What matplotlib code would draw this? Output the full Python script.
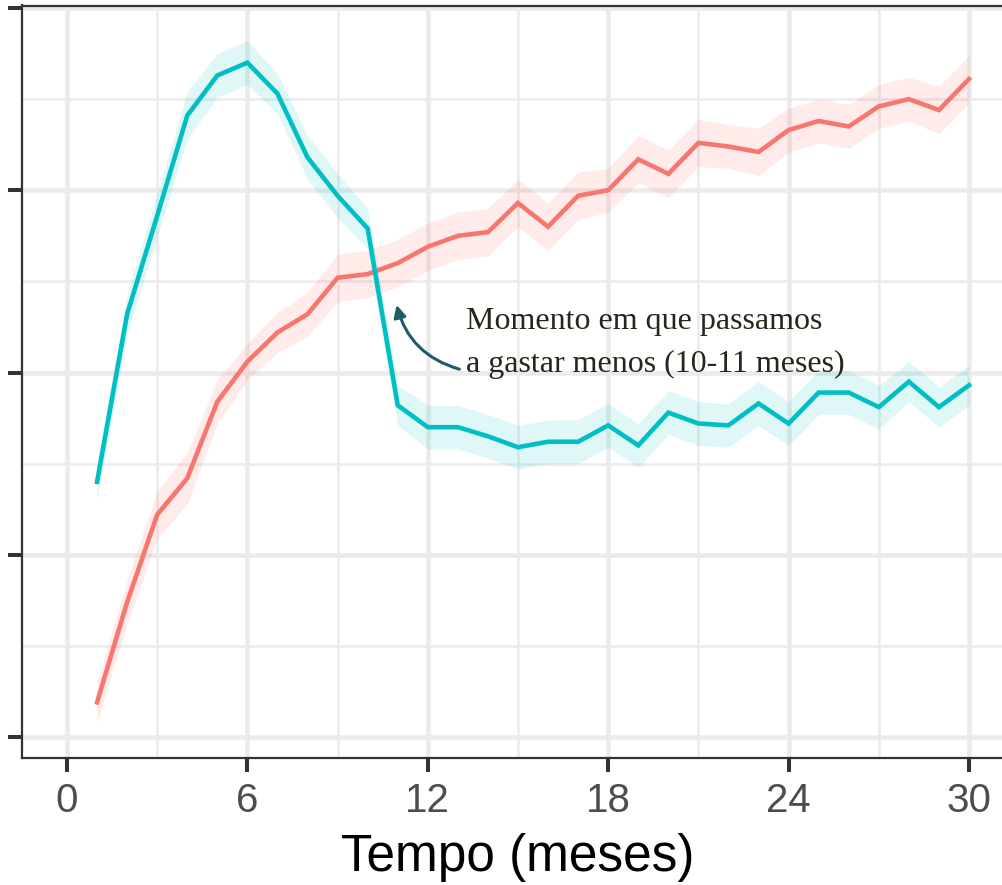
import matplotlib
matplotlib.use("Agg")
import matplotlib.pyplot as plt
from matplotlib.patches import FancyArrowPatch

# ---- data ----
months = list(range(1, 31))
serie_vermelha = [0.19, 0.74, 1.22, 1.42, 1.84, 2.06, 2.22, 2.32, 2.52, 2.54,
                  2.60, 2.69, 2.75, 2.77, 2.93, 2.80, 2.97, 3.00, 3.17, 3.09,
                  3.26, 3.24, 3.21, 3.33, 3.38, 3.35, 3.46, 3.50, 3.44, 3.61]
se_vermelha = [0.11, 0.12, 0.13, 0.14, 0.12, 0.10, 0.11, 0.12, 0.13, 0.13,
               0.13, 0.13, 0.13, 0.13, 0.13, 0.13, 0.13, 0.12, 0.13, 0.13,
               0.13, 0.12, 0.13, 0.12, 0.12, 0.12, 0.12, 0.12, 0.13, 0.13]
serie_azul = [1.40, 2.32, 2.86, 3.41, 3.63, 3.70, 3.53, 3.18, 2.97, 2.79,
              1.82, 1.70, 1.70, 1.65, 1.59, 1.62, 1.62, 1.71, 1.60, 1.78,
              1.72, 1.71, 1.83, 1.72, 1.89, 1.89, 1.81, 1.95, 1.81, 1.93]
se_azul = [0.10, 0.11, 0.12, 0.13, 0.12, 0.12, 0.11, 0.12, 0.12, 0.11,
           0.11, 0.12, 0.12, 0.12, 0.12, 0.12, 0.12, 0.12, 0.12, 0.12,
           0.12, 0.12, 0.12, 0.12, 0.12, 0.12, 0.12, 0.11, 0.11, 0.11]
x_ticks = [0, 6, 12, 18, 24, 30]
x_minor = [3, 9, 15, 21, 27]
y_ticks = [0, 1, 2, 3, 4]
y_minor = [0.5, 1.5, 2.5, 3.5]
x_label = "Tempo (meses)"
annot_lines = ["Momento em que passamos", "a gastar menos (10-11 meses)"]

RED = "#F8766D"
TEAL = "#00BFC4"

W, H = 1002, 885
fig = plt.figure(figsize=(W / 100, H / 100), dpi=100)
left_px, right_px = 21.9, 1014.1
bottom_px, top_px = 758, 5.5
ax = fig.add_axes([left_px / W, 1 - bottom_px / H,
                   (right_px - left_px) / W, (bottom_px - top_px) / H])
ax.set_xlim(-1.5, 31.5)
ax.set_ylim(-0.1152, 4.0137)

# grid
for xv in x_minor:
    ax.axvline(xv, color="#EBEBEB", lw=1.8, zorder=0)
for yv in y_minor:
    ax.axhline(yv, color="#EBEBEB", lw=1.8, zorder=0)
for xv in x_ticks:
    ax.axvline(xv, color="#EBEBEB", lw=3.3, zorder=0.5)
for yv in y_ticks:
    ax.axhline(yv, color="#EBEBEB", lw=3.3, zorder=0.5)

# ribbons
lo_r = [v - s for v, s in zip(serie_vermelha, se_vermelha)]
hi_r = [v + s for v, s in zip(serie_vermelha, se_vermelha)]
lo_a = [v - s for v, s in zip(serie_azul, se_azul)]
hi_a = [v + s for v, s in zip(serie_azul, se_azul)]
ax.fill_between(months, lo_r, hi_r, color=RED, alpha=0.14, lw=0, zorder=1)
ax.fill_between(months, lo_a, hi_a, color=TEAL, alpha=0.12, lw=0, zorder=1)

# lines
ax.plot(months, serie_vermelha, color=RED, lw=3.3, zorder=2, solid_joinstyle="miter")
ax.plot(months, serie_azul, color=TEAL, lw=3.3, zorder=3, solid_joinstyle="miter")

# ticks / spines
ax.set_xticks(x_ticks)
ax.set_xticklabels([str(t) for t in x_ticks])
ax.set_yticks(y_ticks)
ax.set_yticklabels([])
ax.tick_params(axis="both", length=10, width=2.9, color="#333333")
ax.tick_params(axis="x", labelsize=29, labelcolor="#4D4D4D", pad=7)
for lab in ax.get_xticklabels():
    lab.set_family(["Liberation Sans", "DejaVu Sans"])
for sp in ax.spines.values():
    sp.set_color("#333333")
    sp.set_linewidth(1.6)
ax.set_xlabel(x_label, fontsize=37, family=["Liberation Sans", "DejaVu Sans"],
              color="black", labelpad=10)

# annotation
tx = 13.27
serif = ["Liberation Serif", "DejaVu Serif"]
ax.text(tx, 2.239, annot_lines[0], fontsize=23, family=serif, color="#26261a",
        ha="left", va="baseline", zorder=5)
ax.text(tx, 2.003, annot_lines[1], fontsize=23, family=serif, color="#26261a",
        ha="left", va="baseline", zorder=5)
arrow = FancyArrowPatch((13.14, 2.014), (10.94, 2.386),
                        connectionstyle="arc3,rad=-0.3",
                        arrowstyle="-|>", mutation_scale=18,
                        color="#1e5c66", lw=2.2, zorder=5)
ax.add_patch(arrow)

fig.savefig("out.png", dpi=100)
